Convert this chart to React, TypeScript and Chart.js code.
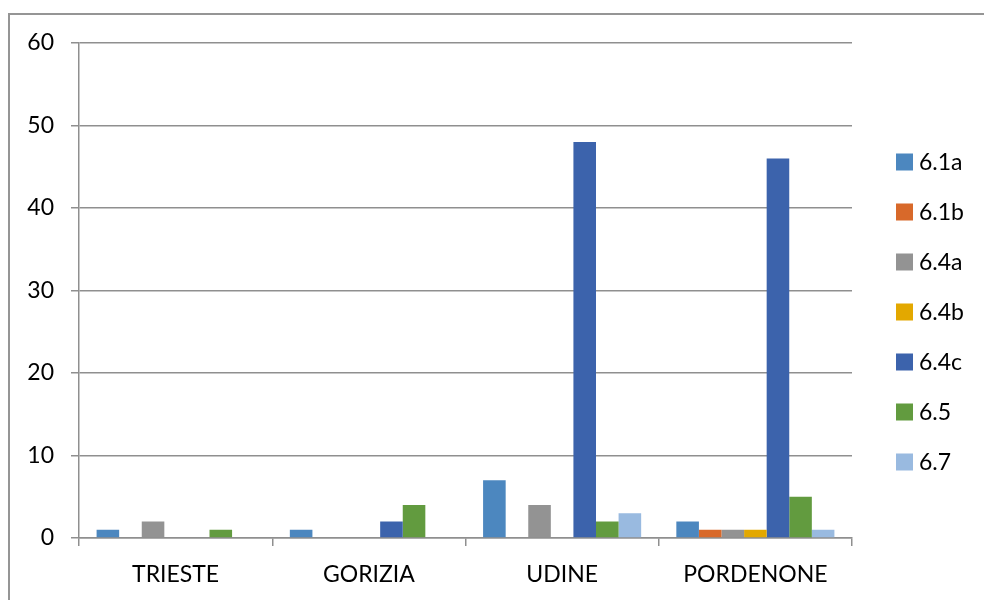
import React, { useEffect, useRef } from "react";
import { Chart, registerables } from "chart.js";

Chart.register(...registerables);

const categories = ["TRIESTE", "GORIZIA", "UDINE", "PORDENONE"];
const seriesNames = ["6.1a", "6.1b", "6.4a", "6.4b", "6.4c", "6.5", "6.7"];
const s61a = [1, 1, 7, 2];
const s61b = [0, 0, 0, 1];
const s64a = [2, 0, 4, 1];
const s64b = [0, 0, 0, 1];
const s64c = [0, 2, 48, 46];
const s65 = [1, 4, 2, 5];
const s67 = [0, 0, 3, 1];
const yMin = 0;
const yMax = 60;
const yStep = 10;

const seriesValues = [s61a, s61b, s64a, s64b, s64c, s65, s67];
const seriesColors = ["#4C87BF", "#D8692A", "#939393", "#E3A800", "#3C63AC", "#629B3F", "#99BAE0"];

const FONT = "Lato, 'Open Sans', sans-serif";
const GRID = "#8f8f8f";

const sideLegend = {
  id: "sideLegend",
  afterDraw(chart: any) {
    const ctx = chart.ctx;
    ctx.save();
    ctx.font = `23px ${FONT}`;
    ctx.textBaseline = "middle";
    ctx.textAlign = "left";
    chart.data.datasets.forEach((ds: any, i: number) => {
      const y = 162 + i * 50;
      ctx.fillStyle = ds.backgroundColor;
      ctx.fillRect(896, y - 8.5, 17, 17);
      ctx.fillStyle = "#000";
      ctx.fillText(ds.label, 919, y + 1);
    });
    ctx.restore();
  },
};

export default function App() {
  const ref = useRef<HTMLCanvasElement>(null);

  useEffect(() => {
    if (!ref.current) return;
    const chart = new Chart(ref.current, {
      type: "bar",
      data: {
        labels: categories,
        datasets: seriesNames.map((name, i) => ({
          label: name,
          data: seriesValues[i],
          backgroundColor: seriesColors[i],
          borderWidth: 0,
          barPercentage: 1,
          categoryPercentage: 0.818,
        })),
      },
      options: {
        animation: false,
        responsive: true,
        maintainAspectRatio: false,
        layout: { padding: { left: 0, top: 43, right: 132, bottom: 0 } },
        plugins: {
          legend: { display: false },
          tooltip: { enabled: false },
          title: { display: false },
        },
        scales: {
          x: {
            afterFit: (s: any) => {
              s.height = 62;
            },
            grid: {
              display: true,
              drawOnChartArea: false,
              drawTicks: true,
              tickLength: 8,
              offset: true,
              color: GRID,
              lineWidth: 1.5,
            },
            border: { display: true, color: GRID, width: 1.5 },
            ticks: {
              color: "#000",
              font: { family: FONT, size: 23 },
              padding: 15,
              maxRotation: 0,
            },
          },
          y: {
            min: yMin,
            max: yMax,
            afterFit: (s: any) => {
              s.width = 79;
            },
            grid: {
              color: GRID,
              lineWidth: 1.5,
              tickLength: 8,
              drawTicks: true,
            },
            border: { display: true, color: GRID, width: 1.5 },
            ticks: {
              stepSize: yStep,
              color: "#000",
              font: { family: FONT, size: 23 },
              padding: 17,
            },
          },
        },
      },
      plugins: [sideLegend],
    });
    return () => chart.destroy();
  }, []);

  return (
    <>
      <div style={{ position: "fixed", left: 0, top: 0, width: 984, height: 600, background: "#fff" }}>
        <canvas ref={ref} />
      </div>
      <div
        style={{
          position: "fixed",
          left: 8,
          top: 13,
          width: 1100,
          height: 700,
          border: "2px solid #959595",
          pointerEvents: "none",
        }}
      />
    </>
  );
}
